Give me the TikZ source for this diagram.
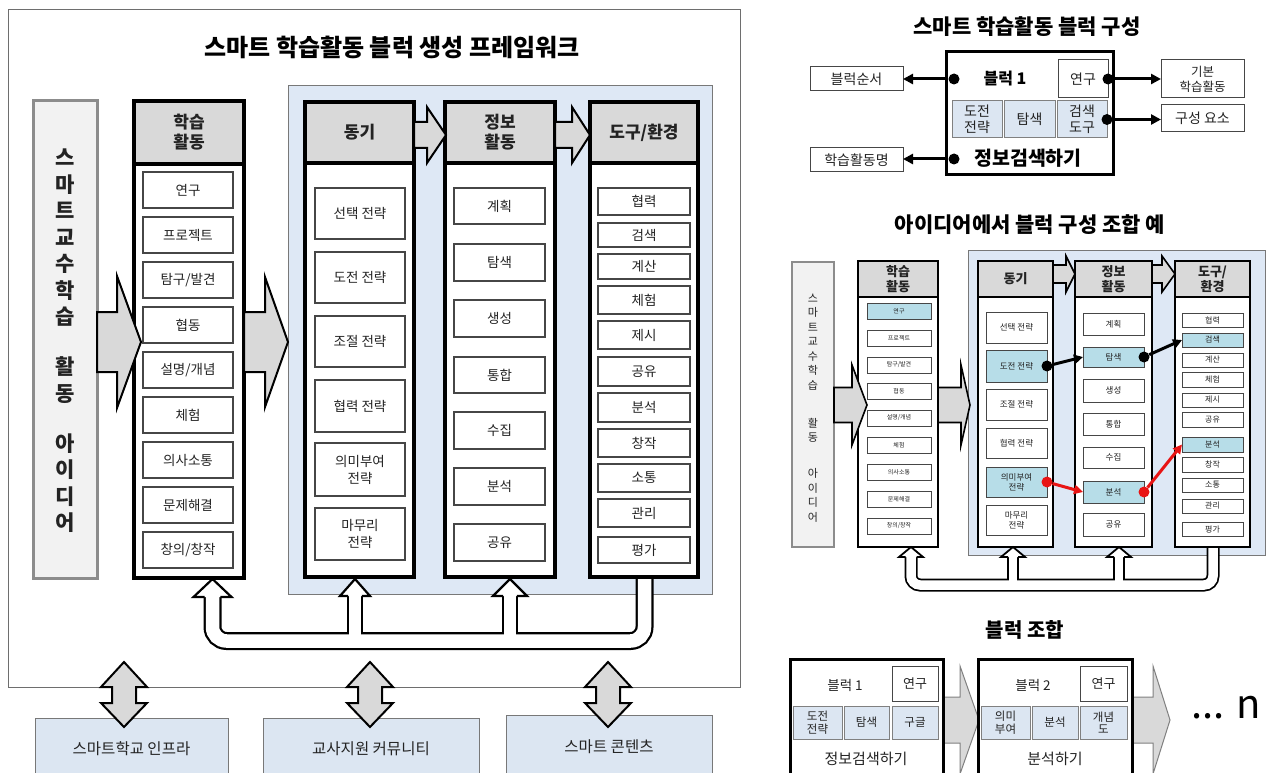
\documentclass[tikz,border=0pt]{standalone}
\usepackage{fontspec}
\setmainfont{Noto Sans CJK KR}
\usetikzlibrary{arrows.meta}
\definecolor{hdr}{RGB}{217,217,217}
\definecolor{reg}{RGB}{222,232,245}
\definecolor{regline}{RGB}{120,120,120}
\definecolor{framec}{RGB}{110,110,110}
\definecolor{barfill}{RGB}{242,242,242}
\definecolor{barline}{RGB}{140,140,140}
\definecolor{bluebox}{RGB}{220,230,242}
\definecolor{cyanbox}{RGB}{183,221,232}
\definecolor{itemline}{RGB}{70,70,70}
\definecolor{txt}{RGB}{35,35,35}
\definecolor{redarr}{RGB}{232,20,20}
\newcommand\fsz[2]{\fontsize{#1}{#2}\selectfont}
\newcommand\bx[7]{\node[#6, minimum width={#4-#2}, minimum height={#5-#3}] (#1) at ({(#2+#4)/2},{(#3+#5)/2}) {#7};}
\newcommand\rarrow[7]{\draw[#7] (#1,{#4-#5}) -- (#2,{#4-#5}) -- (#2,{#4-#6}) -- (#3,#4) -- (#2,{#4+#6}) -- (#2,{#4+#5}) -- (#1,{#4+#5}) -- cycle;}
\newcommand\udarrow[1]{\draw[garrow] (#1,662) -- ({#1+23},687) -- ({#1+12},687) -- ({#1+12},703) -- ({#1+23},703) -- (#1,727) -- ({#1-23},703) -- ({#1-12},703) -- ({#1-12},687) -- ({#1-23},687) -- cycle;}
\newcommand\uphead[6]{\fill[white] ({#1-#4},#3) -- (#1,#2) -- ({#1+#4},#3) -- cycle;
\draw[line width=#6, line join=miter] ({#1-#5},#3) -- ({#1-#4},#3) -- (#1,#2) -- ({#1+#4},#3) -- ({#1+#5},#3);}
\tikzset{
 colst/.style={draw=black, line width=3.2pt, fill=white, inner sep=0pt, outer sep=0pt},
 hdrst/.style={colst, fill=hdr, align=center, font=\bfseries\fsz{17}{20}, text=txt},
 itmA/.style={draw=itemline, line width=1.2pt, fill=white, inner sep=0pt, outer sep=0pt, align=center, text=txt, font=\fsz{13.5}{17}},
 garrow/.style={fill=hdr, draw=black, line width=2pt, line join=miter},
 garrowS/.style={fill=hdr, draw=black, line width=1.6pt, line join=miter},
 garrowG/.style={fill=hdr, draw=gray, line width=1pt, line join=miter},
 barst/.style={draw=barline, line width=3pt, fill=barfill, inner sep=0pt},
 barstS/.style={draw=barline, line width=2pt, fill=barfill, inner sep=0pt},
 bbst/.style={draw=regline, line width=1pt, fill=bluebox, inner sep=0pt, font=\fsz{15.5}{18}, text=txt},
 blkst/.style={draw=black, line width=3pt, fill=white, inner sep=0pt, outer sep=0pt},
 itmR/.style={draw=itemline, line width=1pt, fill=white, inner sep=0pt, outer sep=0pt, align=center, text=txt, font=\fsz{14}{16}},
 itmR2/.style={itmR, font=\fsz{12.5}{15}},
 bluR/.style={draw=gray, line width=1pt, fill=bluebox, inner sep=0pt, outer sep=0pt, align=center, text=txt, font=\fsz{14}{16}},
 bluB/.style={bluR, font=\fsz{11.5}{12.5}},
 dot/.style={circle, fill=black, inner sep=0pt, minimum size=11pt},
 dotS/.style={circle, fill=black, inner sep=0pt, minimum size=11pt},
 conn/.style={line width=3pt, -{Triangle[length=10pt,width=10pt]}},
 connS/.style={line width=3pt, -{Triangle[length=9pt,width=9pt]}},
 colS/.style={draw=black, line width=2.5pt, fill=white, inner sep=0pt, outer sep=0pt},
 hdrS/.style={colS, fill=hdr, align=center, font=\bfseries\fsz{13}{15}, text=txt},
 itmS/.style={draw=itemline, line width=0.9pt, inner sep=0pt, outer sep=0pt, align=center, text=txt, font=\fsz{8.5}{10}},
 itmT/.style={itmS, font=\fsz{6}{7}},
 ttl/.style={font=\bfseries\fsz{21}{24}, text=black},
}
\begin{document}
\begin{tikzpicture}[x=1pt,y=-1pt]
\useasboundingbox (0,0) rectangle (1267,773);
\fill[white] (0,0) rectangle (1267,773);

% ===== main framework =====
\draw[draw=framec, line width=1pt, fill=white] (8,10) rectangle (740,687);
\node[font=\bfseries\fsz{24}{27}, text=black] (t1) at (392,47) {스마트 학습활동 블럭 생성 프레임워크};
\draw[draw=regline, line width=1pt, fill=reg] (288,86) rectangle (712,594);

% pipes
\draw[line width=18pt, rounded corners=14pt] (212.5,596) -- (212.5,641) -- (644.5,641) -- (644.5,570);
\draw[line width=16pt] (355,596) -- (355,641);
\draw[line width=16pt] (510,596) -- (510,641);
\draw[line width=13.5pt, white, rounded corners=14pt] (212.5,596) -- (212.5,641) -- (644.5,641) -- (644.5,570);
\draw[line width=11.5pt, white] (355,596) -- (355,641);
\draw[line width=11.5pt, white] (510,596) -- (510,641);

\bx{bar1}{33}{101}{97}{578}{barst}{}
\node[font=\bfseries\fsz{21}{26.5}, align=center, text=txt] (bar1t) at (65,341) {스\\마\\트\\교\\수\\학\\습\\[23.5pt]활\\동\\[23.5pt]아\\이\\디\\어};

\bx{cA}{134}{101}{244}{578}{colst}{}
\bx{cAh}{134}{101}{244}{164}{hdrst}{학습\\활동}
\bx{cB}{305}{102}{414}{577}{colst}{}
\bx{cBh}{305}{102}{414}{163}{hdrst}{동기}
\bx{cC}{445}{102}{555}{577}{colst}{}
\bx{cCh}{445}{102}{555}{163}{hdrst}{정보\\활동}
\bx{cD}{590}{102}{698}{577}{colst}{}
\bx{cDh}{590}{102}{698}{163}{hdrst}{도구/환경}

\foreach \a/\t [count=\i] in {172/연구,217/프로젝트,262/{탐구/발견},307/협동,352/{설명/개념},397/체험,442/의사소통,487/문제해결,532/{창의/창작}}
 {\bx{iA\i}{143}{\a}{233}{\a+36}{itmA}{\t}}
\foreach \a/\b/\t [count=\i] in {188/239/선택 전략,252/303/도전 전략,316/367/조절 전략,380/432/협력 전략,443/496/의미부여\\전략,508/560/마무리\\전략}
 {\bx{iB\i}{315}{\a}{405}{\b}{itmA}{\t}}
\foreach \a/\b/\t [count=\i] in {188/224/계획,244/281/탐색,300/337/생성,357/393/통합,412/449/수집,468/505/분석,524/561/공유}
 {\bx{iC\i}{454}{\a}{545}{\b}{itmA}{\t}}
\foreach \a/\b/\t [count=\i] in {188/215/협력,223/247/검색,254/279/계산,286/314/체험,321/349/제시,357/386/공유,393/422/분석,429/457/창작,464/492/소통,499/527/관리,537/563/평가}
 {\bx{iD\i}{598}{\a}{690}{\b}{itmA}{\t}}

\rarrow{97}{117}{141}{342}{30}{66}{garrow}
\rarrow{244}{265}{288}{342}{30}{65}{garrow}
\rarrow{414}{427}{446}{135}{13}{28}{garrow}
\rarrow{555}{572}{590}{135}{13}{28}{garrow}

\uphead{212.5}{579}{597}{19}{7.9}{2.2pt}
\uphead{355}{579}{596}{15}{6.9}{2.2pt}
\uphead{510}{579}{596}{17}{6.9}{2.2pt}

\bx{bI}{35}{718}{228}{779}{bbst}{스마트학교 인프라}
\bx{bT}{263}{718}{479}{779}{bbst}{교사지원 커뮤니티}
\bx{bS}{506}{715}{712}{779}{bbst}{스마트 콘텐츠}
\udarrow{124}
\udarrow{370}
\udarrow{608}

% ===== block composition =====
\node[ttl] (t2) at (1027,27) {스마트 학습활동 블럭 구성};
\bx{blk}{946}{52}{1113}{175}{blkst}{}
\bx{yg}{1058}{60}{1108}{98}{itmR}{연구}
\bx{q1}{952}{101}{1002}{138}{bluR}{도전\\전략}
\bx{q2}{1004}{101}{1055}{138}{bluR}{탐색}
\bx{q3}{1057}{101}{1107}{138}{bluR}{검색\\도구}
\node[font=\bfseries\fsz{16}{18}] (bl1) at (1005,79) {블럭 1};
\node[font=\bfseries\fsz{19.5}{22}] (jb) at (1028,158) {정보검색하기};
\node[dot] (dA) at (954,79) {};
\node[dot] (dB) at (954,159) {};
\node[dot] (dC) at (yg.east) {};
\node[dot] (dD) at (q3.east) {};
\bx{sA}{810}{67}{903}{91}{itmR}{블럭순서}
\bx{sB}{810}{148}{903}{172}{itmR}{학습활동명}
\bx{sC}{1161}{60}{1244}{98}{itmR2}{기본\\학습활동}
\bx{sD}{1161}{105}{1244}{132}{itmR}{구성 요소}
\draw[conn] (dA) -- (dA -| sA.east);
\draw[conn] (dB) -- (dB -| sB.east);
\draw[conn] (dC) -- (dC -| sC.west);
\draw[conn] (dD) -- (dD -| sD.west);

% ===== example =====
\node[ttl] (t3) at (1030,225) {아이디어에서 블럭 구성 조합 예};
\draw[draw=regline, line width=1pt, fill=reg] (968,250) rectangle (1265,555);
\draw[line width=13pt, rounded corners=9pt] (911,557) -- (911,585) -- (1213,585) -- (1213,540);
\draw[line width=12pt] (1013,556) -- (1013,585);
\draw[line width=12pt] (1119,556) -- (1119,585);
\draw[line width=9.5pt, white, rounded corners=9pt] (911,557) -- (911,585) -- (1213,585) -- (1213,540);
\draw[line width=8.5pt, white] (1013,556) -- (1013,585);
\draw[line width=8.5pt, white] (1119,556) -- (1119,585);

\bx{bar2}{792}{262}{834}{547}{barstS}{}
\node[font=\fsz{11}{14.5}, align=center, text=txt] (bar2t) at (813,408) {스\\마\\트\\교\\수\\학\\습\\[23.5pt]활\\동\\[21.5pt]아\\이\\디\\어};

\bx{sa}{858}{261}{938}{547}{colS}{}
\bx{sah}{858}{261}{938}{297}{hdrS}{학습\\활동}
\bx{sb}{978}{261}{1053}{547}{colS}{}
\bx{sbh}{978}{261}{1053}{297}{hdrS}{동기}
\bx{sc}{1075}{261}{1152}{547}{colS}{}
\bx{sch}{1075}{261}{1152}{297}{hdrS}{정보\\활동}
\bx{sd}{1175}{261}{1250}{547}{colS}{}
\bx{sdh}{1175}{261}{1250}{297}{hdrS}{도구/\\환경}

\foreach \a/\c/\t [count=\i] in {303/cyanbox/연구,330/white/프로젝트,357/white/{탐구/발견},383/white/협동,410/white/{설명/개념},437/white/체험,464/white/의사소통,491/white/문제해결,518/white/{창의/창작}}
 {\bx{ja\i}{867}{\a}{931}{\a+16}{itmT, fill=\c}{\t}}
\foreach \a/\b/\c/\t [count=\i] in {312/343/white/선택 전략,350/382/cyanbox/도전 전략,389/420/white/조절 전략,428/458/white/협력 전략,467/497/cyanbox/의미부여\\전략,505/535/white/마무리\\전략}
 {\bx{jb\i}{986}{\a}{1047}{\b}{itmS, fill=\c}{\t}}
\foreach \a/\b/\c/\t [count=\i] in {313/335/white/계획,347/367/cyanbox/탐색,379/402/white/생성,413/435/white/통합,447/468/white/수집,481/503/cyanbox/분석,513/536/white/공유}
 {\bx{jc\i}{1083}{\a}{1144}{\b}{itmS, fill=\c}{\t}}
\foreach \a/\b/\c/\t [count=\i] in {313/327/white/협력,333/347/cyanbox/검색,353/367/white/계산,372/387/white/체험,393/407/white/제시,412/427/white/공유,437/452/cyanbox/분석,457/472/white/창작,478/492/white/소통,499/513/white/관리,522/536/white/평가}
 {\bx{jd\i}{1182}{\a}{1243}{\b}{itmS, fill=\c, font=\fsz{8}{9}}{\t}}

\rarrow{834}{852}{867}{405}{17.5}{40}{garrowS}
\rarrow{938}{961}{970}{405}{17.5}{40}{garrowS}
\rarrow{1053}{1066}{1075}{274}{9}{18}{garrowS}
\rarrow{1152}{1162}{1175}{274}{9}{18}{garrowS}

\uphead{911}{547}{557}{12}{5.5}{1.8pt}
\uphead{1013}{547}{557}{12}{5}{1.8pt}
\uphead{1119}{547}{557}{12}{5}{1.8pt}

\node[dotS] (e1) at (jb2.east) {};
\node[dotS] (e2) at (jc2.east) {};
\node[dotS, fill=redarr] (e3) at (jb5.east) {};
\node[dotS, fill=redarr] (e4) at (jc6.east) {};
\draw[connS] (e1) -- (jc2.west);
\draw[connS] (e2) -- (jd2.west);
\draw[connS, redarr] (e3) -- (jc6.west);
\draw[connS, redarr] (e4) -- (jd7.west);

% ===== block combination =====
\node[font=\bfseries\fsz{20}{23}] (t4) at (1025,630) {블럭 조합};
\rarrow{943}{960}{979}{720}{23}{54}{garrowG}
\rarrow{1132}{1153}{1170}{720}{23}{54}{garrowG}
\bx{k1}{790}{659}{943}{790}{blkst}{}
\bx{k2}{978}{659}{1132}{790}{blkst}{}
\bx{k1y}{892}{666}{938}{701}{itmR, font=\fsz{13}{15}}{연구}
\bx{k1a}{793}{706}{842}{739}{bluB}{도전\\전략}
\bx{k1b}{844}{706}{889}{739}{bluB}{탐색}
\bx{k1c}{892}{706}{938}{739}{bluB}{구글}
\node[font=\fsz{13.5}{16}, text=txt] (k1t) at (845,685) {블럭 1};
\node[font=\fsz{15}{18}, text=txt] (k1n) at (866,759) {정보검색하기};
\bx{k2y}{1080}{666}{1127}{701}{itmR, font=\fsz{13}{15}}{연구}
\bx{k2a}{981}{706}{1030}{739}{bluB}{의미\\부여}
\bx{k2b}{1032}{706}{1078}{739}{bluB}{분석}
\bx{k2c}{1080}{706}{1127}{739}{bluB}{개념\\도}
\node[font=\fsz{13.5}{16}, text=txt] (k2t) at (1033,685) {블럭 2};
\node[font=\fsz{15}{18}, text=txt] (k2n) at (1055,759) {분석하기};
\node[font=\fsz{40}{40}] (nn) at (1226,708) {... n};
\end{tikzpicture}
\end{document}
